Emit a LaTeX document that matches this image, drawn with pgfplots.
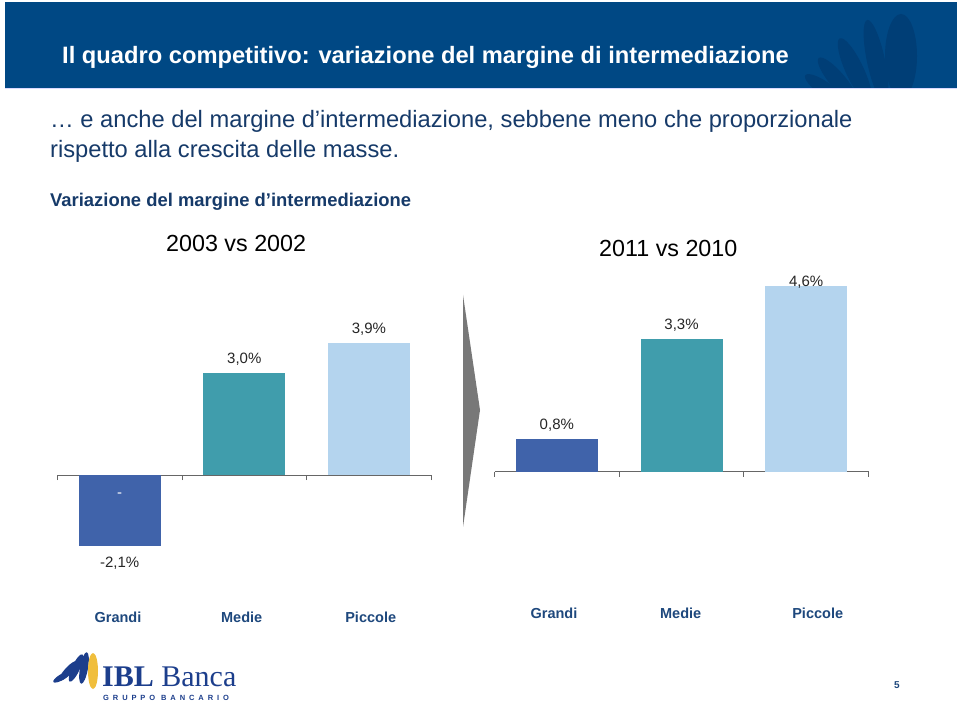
\documentclass[border=0pt]{standalone}
\usepackage{pgfplots}
\pgfplotsset{compat=1.18}
\usepackage{fontspec}
\setmainfont{Liberation Sans}
\newfontfamily\seriffont{Liberation Serif}
\definecolor{barblue}{RGB}{64,99,170}
\definecolor{barteal}{RGB}{64,157,172}
\definecolor{barlight}{RGB}{180,212,238}
\definecolor{titlebar}{RGB}{0,72,132}
\definecolor{leafblue}{RGB}{0,62,118}
\definecolor{textblue}{RGB}{22,58,105}
\definecolor{catblue}{RGB}{30,72,125}
\definecolor{logoblue}{RGB}{28,62,140}
\definecolor{logoyellow}{RGB}{240,190,60}
\definecolor{arrowgray}{RGB}{120,120,120}
\pgfplotsset{
  slidebar/.style={
    ybar, bar width=82pt, bar shift=0pt,
    scale only axis, width=374pt,
    xmin=-0.5, xmax=2.5,
    axis x line=middle, axis y line=none,
    x axis line style={-, draw=black!60, line width=0.9pt},
    xtick={-0.5,0.5,1.5,2.5}, xticklabel=\empty,
    xtick align=outside, major tick length=5pt,
    x tick style={draw=black!60, line width=0.9pt},
    clip=false,
  },
  vlab/.style={every node near coord/.append style={font=\fontsize{15}{18}\selectfont, text=black!85, anchor=base, yshift=#1}},
}
\begin{document}
\begin{tikzpicture}[x=1pt,y=1pt]
\fill[white] (0,0) rectangle (960,701);
% title bar
\fill[titlebar] (5,613) rectangle (957,699);
\begin{scope}
\clip (5,613) rectangle (957,699);
\fill[leafblue] (901,645) ellipse [x radius=16, y radius=42];
\fill[leafblue, rotate around={12:(876,640)}] (876,640) ellipse [x radius=9, y radius=42];
\fill[leafblue, rotate around={25:(855,630)}] (855,630) ellipse [x radius=9, y radius=36];
\fill[leafblue, rotate around={40:(838,620)}] (838,620) ellipse [x radius=8, y radius=30];
\fill[leafblue, rotate around={55:(825,612)}] (825,612) ellipse [x radius=7, y radius=24];
\end{scope}
\draw[blue!15, line width=0.8pt] (5,612.5) -- (957,612.5);
\node[anchor=base west, inner sep=0, text=white, font=\fontsize{23.7}{28}\selectfont\bfseries] at (62,637)
  {Il quadro competitivo: variazione del margine di intermediazione};
% text
\node[anchor=base west, inner sep=0, text=textblue, font=\fontsize{23.7}{28}\selectfont] at (50,573)
  {… e anche del margine d’intermediazione, sebbene meno che proporzionale};
\node[anchor=base west, inner sep=0, text=textblue, font=\fontsize{23.7}{28}\selectfont] at (50,543)
  {rispetto alla crescita delle masse.};
\node[anchor=base west, inner sep=0, text=textblue, font=\fontsize{18.4}{22}\selectfont\bfseries] at (50,494)
  {Variazione del margine d’intermediazione};
\node[anchor=base west, inner sep=0, text=black, font=\fontsize{23.3}{27}\selectfont] at (166,449) {2003 vs 2002};
\node[anchor=base west, inner sep=0, text=black, font=\fontsize{23.3}{27}\selectfont] at (599,444) {2011 vs 2010};
% arrow
\fill[arrowgray] (463,406) -- (480,291) -- (463,174) -- cycle;
% left chart
\begin{axis}[slidebar, at={(57.3pt,90.6pt)}, anchor=south west, height=304.65pt, ymin=-4, ymax=5]
\addplot[fill=barblue, draw=none, nodes near coords={-2,1\%}, vlab=-21.3pt] coordinates {(0,-2.1)};
\addplot[fill=barteal, draw=none, nodes near coords={3,0\%}, vlab=9.5pt] coordinates {(1,3.0)};
\addplot[fill=barlight, draw=none, nodes near coords={3,9\%}, vlab=9.5pt] coordinates {(2,3.9)};
\node[text=white, font=\fontsize{15}{18}\selectfont] at (axis cs:0,-0.6) {-};
\end{axis}
% right chart
\begin{axis}[slidebar, at={(494.5pt,108.4pt)}, anchor=south west, height=322.4pt, ymin=-3, ymax=5]
\addplot[fill=barblue, draw=none, nodes near coords={0,8\%}, vlab=10pt] coordinates {(0,0.8)};
\addplot[fill=barteal, draw=none, nodes near coords={3,3\%}, vlab=9.5pt] coordinates {(1,3.3)};
\addplot[fill=barlight, draw=none, nodes near coords={4,6\%}, vlab=0pt] coordinates {(2,4.6)};
\end{axis}
% category labels
\begin{scope}[every node/.style={anchor=base, inner sep=0, text=catblue, font=\fontsize{14.5}{17}\selectfont\bfseries}]
\node at (118,79) {Grandi};
\node at (241.7,79) {Medie};
\node at (370.7,79) {Piccole};
\node at (554,83) {Grandi};
\node at (680.7,83) {Medie};
\node at (817.7,83) {Piccole};
\end{scope}
% logo
\fill[logoblue, rotate around={-60:(62,24)}] (62,24) ellipse [x radius=3, y radius=10];
\fill[logoblue, rotate around={-42:(68,30)}] (68,30) ellipse [x radius=3.5, y radius=13];
\fill[logoblue, rotate around={-25:(76,33)}] (76,33) ellipse [x radius=4, y radius=15];
\fill[logoblue, rotate around={-10:(84,33)}] (84,33) ellipse [x radius=4, y radius=16];
\fill[logoyellow] (93,30) ellipse [x radius=5, y radius=18];
\node[anchor=base west, inner sep=0, text=logoblue, font=\seriffont\fontsize{30}{33}\selectfont] at (102,14.5)
  {\textbf{IBL} Banca};
\node[anchor=base west, inner sep=0, text=logoblue, font=\fontsize{7.5}{9}\selectfont\bfseries] at (103,0.8)
  {\addfontfeature{LetterSpace=52}GRUPPO BANCARIO};
\node[anchor=base, inner sep=0, text=catblue, font=\fontsize{10}{12}\selectfont\bfseries] at (897,13) {5};
\end{tikzpicture}
\end{document}
